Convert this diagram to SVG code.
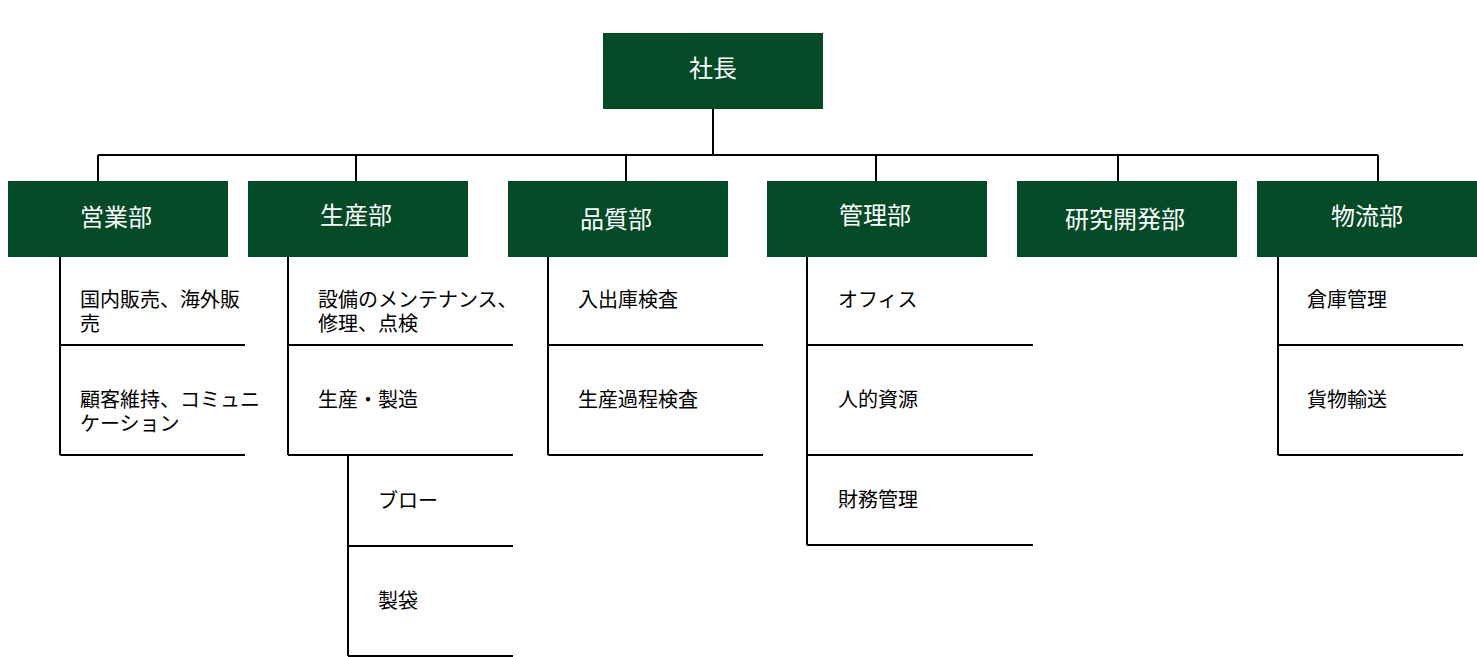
<svg xmlns="http://www.w3.org/2000/svg" width="1477" height="657" viewBox="0 0 1477 657">
<style>
.box{fill:#034a27}
.ht{font-family:"Noto Sans CJK JP","Noto Sans",sans-serif;font-size:24px;fill:#ffffff;text-anchor:middle}
.it{font-family:"Noto Sans CJK JP","Noto Sans",sans-serif;font-size:20px;fill:#000000}
.ln{stroke:#000000;stroke-width:2;fill:none}
</style>
<rect width="1477" height="657" fill="#ffffff"/>
<g id="connectors" class="ln">
<path d="M713 109V155M98 155H1378M98 155V181M356 155V181M626 155V181M876 155V181M1118 155V181M1378 155V181"/>
<path d="M60 257V455M60 345H245M60 455H245"/>
<path d="M288 257V455M288 345H513M288 455H513M348 455V656M348 546H513M348 656H513"/>
<path d="M548 257V455M548 345H763M548 455H763"/>
<path d="M807 257V545M807 345H1033M807 455H1033M807 545H1033"/>
<path d="M1278 257V455M1278 345H1463M1278 455H1463"/>
</g>
<g id="n-president"><rect class="box" x="603" y="33" width="220" height="76"/><text class="ht" x="713" y="77">社長</text></g>
<g id="n-sales"><rect class="box" x="8" y="181" width="220" height="76"/><text class="ht" x="116" y="226">営業部</text></g>
<g id="n-production"><rect class="box" x="248" y="181" width="220" height="76"/><text class="ht" x="356" y="224">生産部</text></g>
<g id="n-quality"><rect class="box" x="508" y="181" width="220" height="76"/><text class="ht" x="616" y="228">品質部</text></g>
<g id="n-admin"><rect class="box" x="767" y="181" width="220" height="76"/><text class="ht" x="875" y="224">管理部</text></g>
<g id="n-rnd"><rect class="box" x="1017" y="181" width="220" height="76"/><text class="ht" x="1125" y="228">研究開発部</text></g>
<g id="n-logistics"><rect class="box" x="1257" y="181" width="220" height="76"/><text class="ht" x="1367" y="225">物流部</text></g>
<g id="s-sales-1"><text class="it" x="80" y="307">国内販売、海外販<tspan x="80" y="331">売</tspan></text></g>
<g id="s-sales-2"><text class="it" x="80" y="407">顧客維持、コミュニ<tspan x="80" y="431">ケーション</tspan></text></g>
<g id="s-prod-1"><text class="it" x="318" y="307">設備のメンテナンス、<tspan x="318" y="331">修理、点検</tspan></text></g>
<g id="s-prod-2"><text class="it" x="318" y="407">生産・製造</text></g>
<g id="s-prod-3"><text class="it" x="378" y="508">ブロー</text></g>
<g id="s-prod-4"><text class="it" x="378" y="608">製袋</text></g>
<g id="s-qual-1"><text class="it" x="578" y="307">入出庫検査</text></g>
<g id="s-qual-2"><text class="it" x="578" y="407">生産過程検査</text></g>
<g id="s-admin-1"><text class="it" x="838" y="307">オフィス</text></g>
<g id="s-admin-2"><text class="it" x="838" y="407">人的資源</text></g>
<g id="s-admin-3"><text class="it" x="838" y="507">財務管理</text></g>
<g id="s-log-1"><text class="it" x="1307" y="307">倉庫管理</text></g>
<g id="s-log-2"><text class="it" x="1307" y="407">貨物輸送</text></g>
</svg>
